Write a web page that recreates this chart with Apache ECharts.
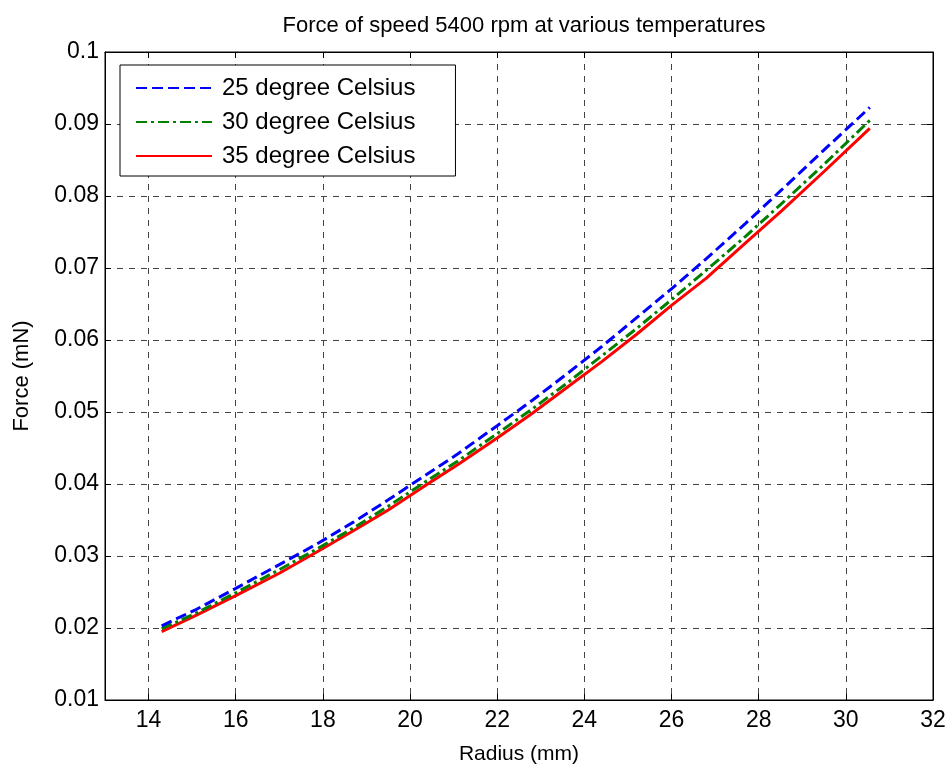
<!DOCTYPE html>
<html>
<head>
<meta charset="utf-8">
<script src="https://cdn.jsdelivr.net/npm/echarts@6/dist/echarts.min.js"></script>
<style>html,body{margin:0;padding:0;background:#fff}#c{width:950px;height:770px}</style>
</head>
<body>
<div id="c"></div>
<script>
var radius = [14.3, 15.1, 16.0, 17.0, 17.9, 18.7, 19.5, 20.3, 21.1, 22.0, 22.8, 23.6, 24.4, 25.2, 26.0, 26.8, 27.7, 28.5, 29.5, 30.55];
var force25 = [0.0203, 0.0226, 0.0255, 0.0288, 0.0318, 0.0347, 0.0378, 0.0410, 0.0442, 0.0481, 0.0516, 0.0553, 0.0591, 0.0631, 0.0671, 0.0713, 0.0762, 0.0807, 0.0864, 0.0923];
var force30 = [0.0199, 0.0221, 0.0249, 0.0281, 0.0311, 0.0339, 0.0369, 0.0401, 0.0432, 0.0470, 0.0504, 0.0540, 0.0578, 0.0616, 0.0656, 0.0697, 0.0744, 0.0788, 0.0844, 0.0905];
var force35 = [0.0195, 0.0218, 0.0245, 0.0276, 0.0307, 0.0335, 0.0364, 0.0396, 0.0427, 0.0464, 0.0498, 0.0534, 0.0570, 0.0608, 0.0648, 0.0686, 0.0735, 0.0778, 0.0834, 0.0894];
var seriesNames = ['25 degree Celsius', '30 degree Celsius', '35 degree Celsius'];
var xTicks = [14, 16, 18, 20, 22, 24, 26, 28, 30, 32];

function pairs(xs, ys) { return xs.map(function (x, i) { return [x, ys[i]]; }); }

var FONT = 'Liberation Sans, Arial, sans-serif';
var gridLineStyle = { color: '#444', type: [6, 6], width: 1 };

var chart = echarts.init(document.getElementById('c'));
chart.setOption({
  animation: false,
  backgroundColor: '#fff',
  title: {
    text: 'Force of speed 5400 rpm at various temperatures',
    left: 519, top: 10, textAlign: 'center',
    textStyle: { fontFamily: FONT, fontSize: 22, fontWeight: 'normal', color: '#000' }
  },
  grid: { left: 105, right: 17, top: 52, bottom: 67, show: true, borderColor: '#000', borderWidth: 1 },
  legend: {
    left: 120, top: 65, orient: 'vertical',
    backgroundColor: '#fff', borderColor: '#000', borderWidth: 1,
    padding: [11, 40, 8, 15], itemGap: 10, itemWidth: 76, itemHeight: 14,
    itemStyle: { opacity: 0 },
    textStyle: { fontFamily: FONT, fontSize: 24, color: '#000', padding: [0, 0, 0, 5] },
    data: seriesNames
  },
  xAxis: [{
    type: 'value', min: 13, max: 32,
    name: 'Radius (mm)', nameLocation: 'middle', nameGap: 44,
    nameTextStyle: { fontFamily: FONT, fontSize: 21, color: '#000' },
    axisLine: { show: true, onZero: false, lineStyle: { color: '#000', width: 1 } },
    axisTick: { show: true, inside: true, length: 6, customValues: xTicks, lineStyle: { color: '#000' } },
    axisLabel: { customValues: xTicks, fontFamily: FONT, fontSize: 23, color: '#000', margin: 9 },
    splitLine: { show: true, customValues: xTicks, lineStyle: gridLineStyle }
  }, {
    type: 'value', min: 13, max: 32, position: 'top',
    axisLine: { show: true, onZero: false, lineStyle: { color: '#000', width: 1 } },
    axisTick: { show: true, inside: true, length: 6, customValues: xTicks, lineStyle: { color: '#000' } },
    axisLabel: { show: false },
    splitLine: { show: false }
  }],
  yAxis: [{
    type: 'value', min: 0.01, max: 0.1, interval: 0.01,
    name: 'Force (mN)', nameLocation: 'middle', nameGap: 72, nameRotate: 90,
    nameTextStyle: { fontFamily: FONT, fontSize: 22, color: '#000' },
    axisLine: { show: true, onZero: false, lineStyle: { color: '#000', width: 1 } },
    axisTick: { show: true, inside: true, length: 6, lineStyle: { color: '#000' } },
    axisLabel: {
      fontFamily: FONT, fontSize: 23, color: '#000', margin: 6,
      formatter: function (v) { return String(parseFloat(v.toFixed(3))); }
    },
    splitLine: { show: true, lineStyle: gridLineStyle }
  }, {
    type: 'value', min: 0.01, max: 0.1, interval: 0.01, position: 'right',
    axisLine: { show: true, onZero: false, lineStyle: { color: '#000', width: 1 } },
    axisTick: { show: true, inside: true, length: 6, lineStyle: { color: '#000' } },
    axisLabel: { show: false },
    splitLine: { show: false }
  }],
  series: [{
    name: seriesNames[0], type: 'line', symbol: 'none', z: 5,
    data: pairs(radius, force25),
    itemStyle: { color: '#0000ff' },
    lineStyle: { color: '#0000ff', width: 3, type: [11, 5] }
  }, {
    name: seriesNames[1], type: 'line', symbol: 'none', z: 4,
    data: pairs(radius, force30),
    itemStyle: { color: '#008000' },
    lineStyle: { color: '#008000', width: 3, type: [11, 4, 3, 4] }
  }, {
    name: seriesNames[2], type: 'line', symbol: 'none', z: 3,
    data: pairs(radius, force35),
    itemStyle: { color: '#ff0000' },
    lineStyle: { color: '#ff0000', width: 3 }
  }]
});
</script>
</body>
</html>
